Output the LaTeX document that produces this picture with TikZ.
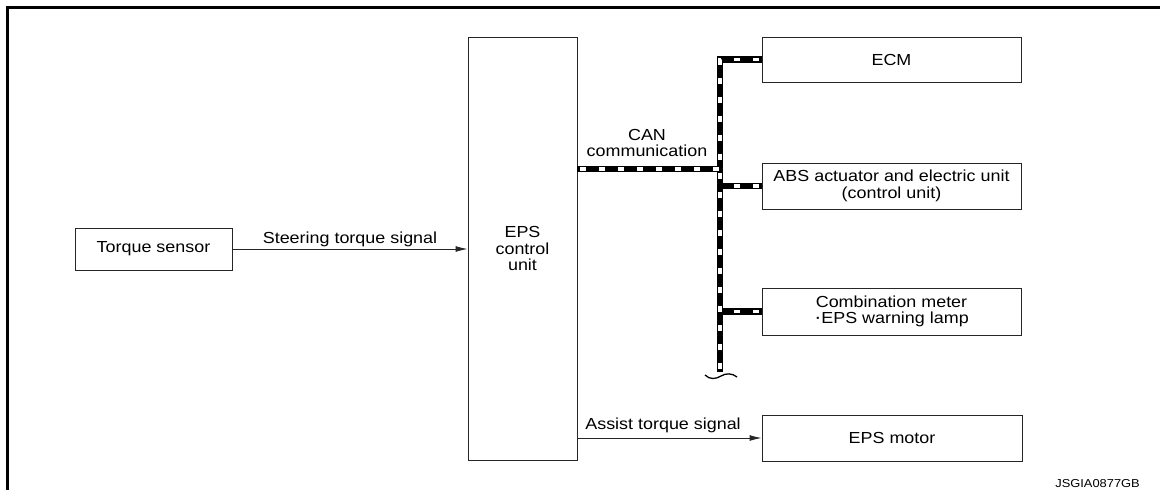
\documentclass[tikz,border=0pt]{standalone}
\usepackage{fontspec}
\setmainfont{Liberation Sans}[FakeStretch=1.12]
\usetikzlibrary{arrows.meta}
\begin{document}
\begin{tikzpicture}[x=1pt,y=-1pt]
\tikzset{
 box/.style={draw=black!85, line width=0.9pt, rectangle, inner sep=0pt, minimum width=259pt, minimum height=46pt, align=center, font=\fontsize{16}{16.5}\selectfont},
 lbl/.style={inner sep=0pt, align=center, font=\fontsize{16}{16.5}\selectfont},
 sig/.style={line width=0.9pt, draw=black!85, -{Latex[length=12pt,width=6pt]}},
 bus/.style={line width=6.8pt, line join=miter, draw=black, postaction={draw=white, line width=3.4pt, dash pattern=on 6pt off 13pt, dash phase=-3pt}},
}
\useasboundingbox (0,0) rectangle (1160,490);
% frame
\draw[line width=3pt, line join=miter] (1160,7.5) -- (7.5,7.5) -- (7.5,490);
% boxes
\node[box, minimum width=157pt, minimum height=42pt] (ts) at (153.5,249) {Torque sensor};
\node[box, minimum width=109pt, minimum height=423pt] (eps) at (522.5,248.5) {EPS\\control\\unit};
\node[box, minimum height=45pt] (ecm) at (891.5,59.5) {ECM};
\node[box] (abs) at (891.5,186) {ABS actuator and electric unit\\(control unit)};
\node[box, minimum height=47pt] (comb) at (891.5,311.5) {Combination meter\\{\fontsize{19}{16.5}\selectfont ·}EPS warning lamp};
\node[box, minimum width=260pt] (motor) at (892,438) {EPS motor};
% signals
\draw[sig] (ts.east) -- node[lbl, above=1.6pt] (stl) {Steering torque signal} (eps.west |- ts.east);
\draw[sig] (eps.east |- motor.west) -- node[lbl, above=4.6pt, pos=0.465] (atl) {Assist torque signal} (motor.west);
% CAN bus
\coordinate (bt) at (720,59.5);
\coordinate (bb) at (720,372);
\coordinate (cj) at (720,169);
\draw[bus] (abs.west) -- (abs.west -| bt);
\draw[bus] (comb.west) -- (comb.west -| bt);
\draw[bus] (ecm.west) -- (bt) -- (bb);
\draw[bus] (eps.east |- cj) -- (cj);
\node[lbl, anchor=south] (canl) at (647,157) {CAN\\communication};
% break mark
\draw[line width=1.3pt] (705,375) .. controls (710,380) and (716,379) .. (721,376) .. controls (726,373) and (732,373) .. (737,377);
% code
\node[anchor=base east, inner sep=0pt, font=\fontsize{11.5}{12}\selectfont] (code) at (1140,487) {JSGIA0877GB};
\end{tikzpicture}
\end{document}
